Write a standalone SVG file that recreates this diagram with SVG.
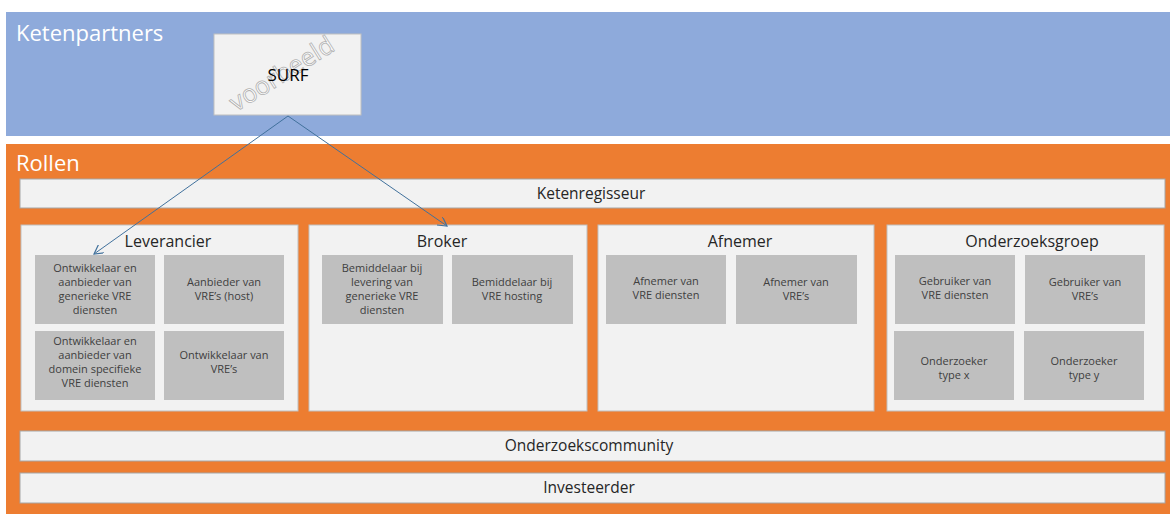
<svg xmlns="http://www.w3.org/2000/svg" width="1170" height="523" viewBox="0 0 1170 523">
<defs>
<style>
.band-title{font-family:"Open Sans","Liberation Sans",sans-serif;font-size:22px;fill:#ffffff}
.bar{fill:#f2f2f2;stroke:#a6a6a6;stroke-width:1}
.cat{fill:#f2f2f2;stroke:#bfbfbf;stroke-width:1}
.sub{fill:#bfbfbf}
.bartext{font-family:"Open Sans","Liberation Sans",sans-serif;font-size:15.5px;fill:#262626;text-anchor:middle}
.cattext{font-family:"Open Sans","Liberation Sans",sans-serif;font-size:16px;fill:#262626;text-anchor:middle}
.subtext{font-family:"Open Sans","Liberation Sans",sans-serif;font-size:11px;fill:#404040;text-anchor:middle}
.conn{fill:none;stroke:#41719c;stroke-width:1}
</style>
<marker id="arr" viewBox="0 0 10 10" refX="9" refY="5" markerWidth="10" markerHeight="10" markerUnits="userSpaceOnUse" orient="auto">
<path d="M0,0 L9,5 L0,10" fill="none" stroke="#41719c" stroke-width="1.2"/>
</marker>
</defs>
<rect width="1170" height="523" fill="#ffffff"/>
<g id="ketenpartners">
<rect x="6" y="12" width="1164" height="124" fill="#8eaadb"/>
<text class="band-title" x="16" y="41">Ketenpartners</text>
</g>
<g id="rollen">
<rect x="6" y="144" width="1164" height="370" fill="#ed7d31"/>
<text class="band-title" x="16" y="171">Rollen</text>
</g>
<g id="surf">
<rect x="214" y="34" width="147" height="81" fill="#f2f2f2" stroke="#bfbfbf" stroke-width="1"/>
<text x="282" y="82" font-family="Open Sans, Liberation Sans, sans-serif" font-size="25" fill="#ffffff" stroke="#b0b0b0" stroke-width="0.8" text-anchor="middle" transform="rotate(-32 282 74)">voorbeeld</text>
<text x="288" y="81" font-family="Open Sans, Liberation Sans, sans-serif" font-size="17" fill="#000000" text-anchor="middle">SURF</text>
</g>
<g id="ketenregisseur">
<rect class="bar" x="20" y="179" width="1145" height="29"/>
<text class="bartext" x="591" y="199">Ketenregisseur</text>
</g>
<g id="leverancier">
<rect class="cat" x="21" y="225" width="277" height="186"/>
<text class="cattext" x="168" y="247">Leverancier</text>
<rect class="sub" x="35" y="255" width="120" height="69"/>
<text class="subtext" x="95" y="272">Ontwikkelaar en</text>
<text class="subtext" x="95" y="286">aanbieder van</text>
<text class="subtext" x="95" y="300">generieke VRE</text>
<text class="subtext" x="95" y="314">diensten</text>
<rect class="sub" x="164" y="255" width="120" height="69"/>
<text class="subtext" x="224" y="286">Aanbieder van</text>
<text class="subtext" x="224" y="300">VRE’s (host)</text>
<rect class="sub" x="35" y="331" width="120" height="69"/>
<text class="subtext" x="95" y="345">Ontwikkelaar en</text>
<text class="subtext" x="95" y="359">aanbieder van</text>
<text class="subtext" x="95" y="373">domein specifieke</text>
<text class="subtext" x="95" y="387">VRE diensten</text>
<rect class="sub" x="164" y="331" width="120" height="69"/>
<text class="subtext" x="224" y="359">Ontwikkelaar van</text>
<text class="subtext" x="224" y="373">VRE’s</text>
</g>
<g id="broker">
<rect class="cat" x="309" y="225" width="278" height="186"/>
<text class="cattext" x="442" y="247">Broker</text>
<rect class="sub" x="322" y="255" width="121" height="69"/>
<text class="subtext" x="382" y="272">Bemiddelaar bij</text>
<text class="subtext" x="382" y="286">levering van</text>
<text class="subtext" x="382" y="300">generieke VRE</text>
<text class="subtext" x="382" y="314">diensten</text>
<rect class="sub" x="452" y="255" width="121" height="69"/>
<text class="subtext" x="512" y="286">Bemiddelaar bij</text>
<text class="subtext" x="512" y="300">VRE hosting</text>
</g>
<g id="afnemer">
<rect class="cat" x="598" y="225" width="276" height="186"/>
<text class="cattext" x="740" y="247">Afnemer</text>
<rect class="sub" x="606" y="255" width="120" height="69"/>
<text class="subtext" x="666" y="285">Afnemer  van</text>
<text class="subtext" x="666" y="299">VRE diensten</text>
<rect class="sub" x="736" y="255" width="121" height="69"/>
<text class="subtext" x="796" y="286">Afnemer  van</text>
<text class="subtext" x="796" y="300">VRE’s</text>
</g>
<g id="onderzoeksgroep">
<rect class="cat" x="887" y="225" width="277" height="186"/>
<text class="cattext" x="1032" y="247">Onderzoeksgroep</text>
<rect class="sub" x="895" y="255" width="120" height="69"/>
<text class="subtext" x="955" y="285">Gebruiker van</text>
<text class="subtext" x="955" y="299">VRE diensten</text>
<rect class="sub" x="1025" y="255" width="120" height="69"/>
<text class="subtext" x="1085" y="286">Gebruiker van</text>
<text class="subtext" x="1085" y="300">VRE’s</text>
<rect class="sub" x="894" y="331" width="120" height="69"/>
<text class="subtext" x="954" y="365">Onderzoeker</text>
<text class="subtext" x="954" y="379">type x</text>
<rect class="sub" x="1024" y="331" width="120" height="69"/>
<text class="subtext" x="1084" y="365">Onderzoeker</text>
<text class="subtext" x="1084" y="379">type y</text>
</g>
<g id="onderzoekscommunity">
<rect class="bar" x="20" y="431" width="1145" height="30"/>
<text class="bartext" x="589" y="451">Onderzoekscommunity</text>
</g>
<g id="investeerder">
<rect class="bar" x="20" y="473" width="1145" height="30"/>
<text class="bartext" x="589" y="493">Investeerder</text>
</g>
<g id="connectors">
<line class="conn" x1="288" y1="116" x2="94" y2="254" marker-end="url(#arr)"/>
<line class="conn" x1="288" y1="116" x2="447" y2="226" marker-end="url(#arr)"/>
</g>
</svg>
